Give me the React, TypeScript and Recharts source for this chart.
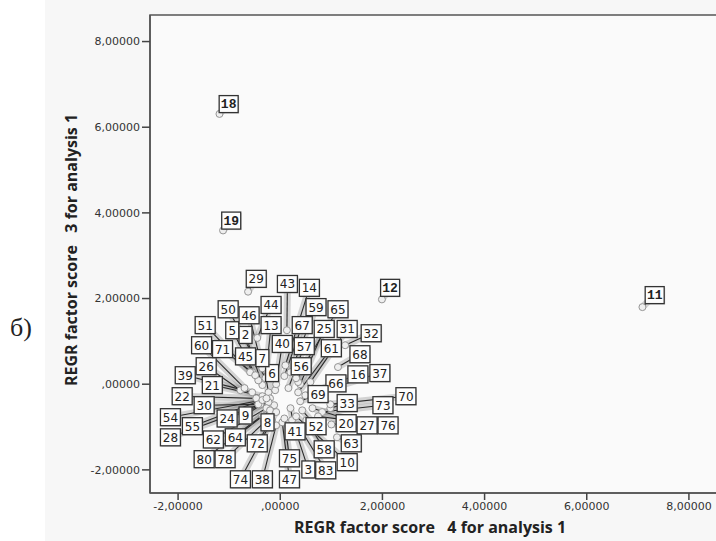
import React from 'react';
import { ScatterChart, Scatter, XAxis, YAxis, ReferenceLine, ReferenceArea } from 'recharts';

// Case numbers shown in the callout boxes
const caseIds = [2, 3, 5, 6, 7, 8, 9, 10, 11, 12, 13, 14, 16, 18, 19, 20, 21, 22, 24, 25, 26, 27, 28, 29, 30, 31, 32, 33, 37, 38, 39, 40, 41, 43, 44, 45, 46, 47, 50, 51, 52, 54, 55, 56, 57, 58, 59, 60, 61, 62, 63, 64, 65, 66, 67, 68, 69, 70, 71, 72, 73, 74, 75, 76, 78, 80, 83];
// REGR factor score 4 (x) of each case
const factor4 = [-0.35, 0.23, -0.43, -0.10, -0.23, -0.12, -0.20, 0.31, 7.09, 1.99, -0.27, 0.10, 0.49, -1.19, -1.12, 1.00, -0.35, -0.47, -0.23, 0.39, -0.78, 0.63, -0.39, -0.63, -0.43, 0.59, 1.27, 0.98, 0.74, -0.08, -0.55, -0.08, 0.20, 0.13, -0.45, -0.55, -0.35, 0.04, -0.29, -0.59, 0.43, -0.35, -0.27, 0.35, 0.16, 0.51, 0.20, -0.70, 0.35, -0.27, 1.11, -0.20, 0.31, 0.63, 0.08, 1.13, 0.39, 0.98, -0.49, -0.08, 0.82, -0.16, 0.08, 0.74, -0.23, -0.35, 0.35];
// REGR factor score 3 (y) of each case
const factor3 = [-0.02, -0.84, 0.09, -0.14, -0.19, -0.49, -0.33, -0.75, 1.80, 1.98, 0.33, 0.44, -0.26, 6.31, 3.59, -0.94, -0.28, -0.33, -0.42, 0.00, -0.14, -0.56, -0.47, 2.16, -0.47, 0.05, 0.91, -0.56, -0.19, -0.96, -0.19, 0.00, -0.56, 1.26, 1.08, 0.28, 0.37, -0.89, 0.14, 0.28, -0.61, -0.37, -0.33, 0.05, -0.09, -0.84, 0.28, -0.09, -0.19, -0.56, -1.24, -0.61, 0.14, -0.33, 0.19, 0.40, -0.40, -0.47, 0.21, -0.65, -0.65, -0.84, -0.80, -0.75, -0.80, -0.73, -0.96];
// Where each callout box sits (same units as the axes)
const calloutX = [-0.68, 0.55, -0.94, -0.16, -0.35, -0.25, -0.68, 1.31, 7.33, 2.15, -0.18, 0.57, 1.52, -1.01, -0.96, 1.29, -1.33, -1.92, -1.04, 0.86, -1.45, 1.70, -2.15, -0.47, -1.49, 1.31, 1.78, 1.31, 1.95, -0.35, -1.86, 0.04, 0.29, 0.14, -0.18, -0.68, -0.61, 0.18, -1.02, -1.47, 0.70, -2.15, -1.72, 0.41, 0.47, 0.86, 0.70, -1.54, 1.00, -1.31, 1.39, -0.88, 1.13, 1.09, 0.43, 1.56, 0.74, 2.46, -1.13, -0.45, 2.01, -0.78, 0.18, 2.11, -1.08, -1.49, 0.89];
const calloutY = [1.15, -1.99, 1.26, 0.26, 0.61, -0.89, -0.73, -1.82, 2.08, 2.25, 1.38, 2.25, 0.23, 6.54, 3.82, -0.91, -0.02, -0.28, -0.80, 1.29, 0.42, -0.96, -1.24, 2.46, -0.49, 1.29, 1.19, -0.44, 0.26, -2.22, 0.21, 0.94, -1.10, 2.34, 1.85, 0.65, 1.61, -2.22, 1.75, 1.38, -0.98, -0.77, -0.98, 0.42, 0.89, -1.52, 1.80, 0.91, 0.84, -1.29, -1.38, -1.24, 1.75, 0.02, 1.38, 0.70, -0.23, -0.28, 0.82, -1.38, -0.49, -2.22, -1.73, -0.96, -1.75, -1.75, -2.01];

const xTicks = [-2, 0, 2, 4, 6, 8];
const yTicks = [-2, 0, 2, 4, 6, 8];
const xTitle = 'REGR factor score   4 for analysis 1';
const yTitle = 'REGR factor score   3 for analysis 1';
const panelTag = 'б)';

const X_DOMAIN: [number, number] = [-2.55, 9.0];
const Y_DOMAIN: [number, number] = [-2.54, 8.62];
const MONO_CASES = new Set([11, 12, 18, 19]);

const points = caseIds.map((id, i) => ({ id, x: factor4[i], y: factor3[i] }));
const callouts = caseIds.map((id, i) => ({ id, x: calloutX[i], y: calloutY[i] }));

const fmt = (v: number) => (v === 0 ? ',00000' : v.toFixed(5).replace('.', ','));

const PointShape = (props: any) => {
  const { cx, cy } = props;
  if (cx == null || cy == null) return null;
  return <circle cx={cx} cy={cy} r={3.5} fill="#efefef" stroke="#959595" strokeWidth={1} />;
};

const CalloutShape = (props: any) => {
  const { cx, cy, payload } = props;
  if (cx == null || cy == null) return null;
  const label = String(payload.id);
  const mono = MONO_CASES.has(payload.id);
  const w = label.length === 1 ? 13 : mono ? 19 : 20;
  const h = 17;
  return (
    <g>
      <rect x={cx - w / 2 + 1} y={cy - h / 2 + 1} width={w} height={h} fill="#aaa" opacity={0.5} />
      <rect x={cx - w / 2} y={cy - h / 2} width={w} height={h} fill="#fdfdfd" stroke="#333" strokeWidth={1.3} />
      <text
        x={cx}
        y={cy + 0.5}
        textAnchor="middle"
        dominantBaseline="central"
        fontFamily={mono ? 'Liberation Mono' : 'DejaVu Sans'}
        fontWeight={mono ? 700 : 400}
        fontSize={mono ? 13 : 12}
        fill="#222"
      >
        {label}
      </text>
    </g>
  );
};

const tickStyle = { fontSize: 11, fill: '#333', fontFamily: 'DejaVu Sans' };

export default function App() {
  return (
    <div style={{ position: 'fixed', left: 0, top: 0, width: 716, height: 541, overflow: 'hidden', background: '#ffffff' }}>
      <div style={{ position: 'absolute', left: 45, top: 0, width: 671, height: 541, background: '#f7f7f7' }} />
      <div style={{ position: 'absolute', left: 0, top: 0 }}>
        <ScatterChart width={760} height={541} margin={{ top: 15, right: 20, bottom: 0, left: 0 }}>
          <XAxis
            type="number"
            dataKey="x"
            domain={X_DOMAIN}
            ticks={xTicks}
            allowDataOverflow
            tickFormatter={fmt}
            tick={tickStyle}
            tickSize={7}
            height={48}
            axisLine={{ stroke: '#555', strokeWidth: 1.5 }}
            tickLine={{ stroke: '#444', strokeWidth: 1.5 }}
          />
          <YAxis
            type="number"
            dataKey="y"
            domain={Y_DOMAIN}
            ticks={yTicks}
            allowDataOverflow
            tickFormatter={fmt}
            tick={tickStyle}
            tickSize={8}
            width={150}
            axisLine={{ stroke: '#555', strokeWidth: 1.5 }}
            tickLine={{ stroke: '#444', strokeWidth: 1.5 }}
          />
          <ReferenceArea
            x1={X_DOMAIN[0]}
            x2={X_DOMAIN[1]}
            y1={Y_DOMAIN[0]}
            y2={Y_DOMAIN[1]}
            fill="#fafafa"
            fillOpacity={1}
            stroke="#555"
            strokeWidth={1.5}
            ifOverflow="visible"
            zIndex={-50}
          />
          {caseIds.map((id, i) => (
            <ReferenceLine
              key={'w' + id}
              segment={[{ x: factor4[i], y: factor3[i] }, { x: calloutX[i], y: calloutY[i] }]}
              stroke="rgba(110,110,110,0.28)"
              strokeWidth={7}
              ifOverflow="visible"
              zIndex={10}
            />
          ))}
          {caseIds.map((id, i) => (
            <ReferenceLine
              key={'l' + id}
              segment={[{ x: factor4[i], y: factor3[i] }, { x: calloutX[i], y: calloutY[i] }]}
              stroke="#2a2a2a"
              strokeWidth={1.1}
              ifOverflow="visible"
              zIndex={20}
            />
          ))}
          <Scatter data={points} shape={PointShape} isAnimationActive={false} zIndex={600} />
          <Scatter data={callouts} shape={CalloutShape} isAnimationActive={false} zIndex={700} />
        </ScatterChart>
      </div>
      <div
        style={{
          position: 'absolute',
          left: 430,
          top: 527,
          transform: 'translate(-50%, -50%)',
          whiteSpace: 'pre',
          fontFamily: 'Open Sans',
          fontWeight: 700,
          fontSize: 16,
          lineHeight: '20px',
          color: '#222',
        }}
      >
        {xTitle}
      </div>
      <div
        style={{
          position: 'absolute',
          left: 70.5,
          top: 250,
          transform: 'translate(-50%, -50%) rotate(-90deg)',
          whiteSpace: 'pre',
          fontFamily: 'Open Sans',
          fontWeight: 700,
          fontSize: 16,
          lineHeight: '20px',
          color: '#222',
        }}
      >
        {yTitle}
      </div>
      <div
        style={{
          position: 'absolute',
          left: 10,
          top: 313,
          fontFamily: 'Liberation Serif',
          fontSize: 26,
          color: '#222',
          lineHeight: '30px',
        }}
      >
        {panelTag}
      </div>
    </div>
  );
}
